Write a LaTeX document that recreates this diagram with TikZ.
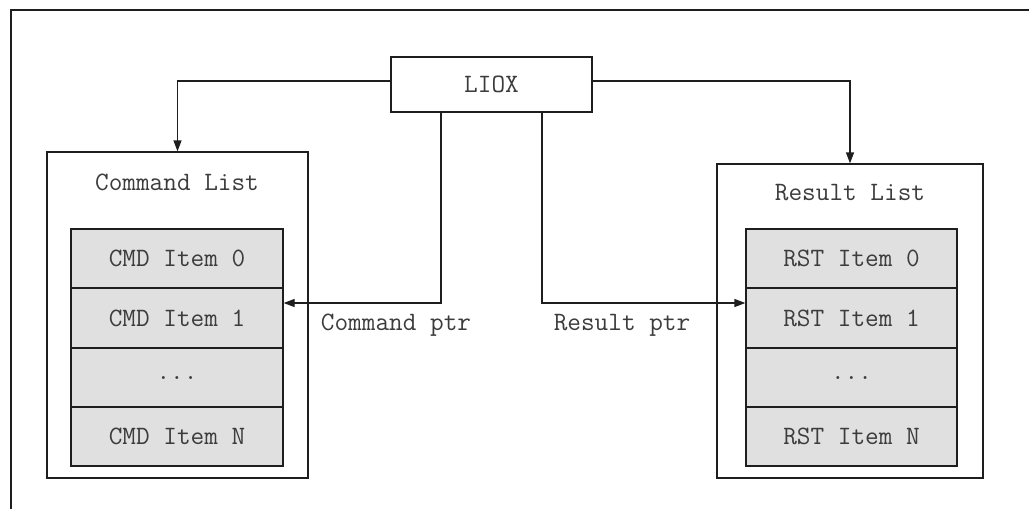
\documentclass[tikz,border=0pt]{standalone}
\usetikzlibrary{arrows.meta}
\definecolor{itemgray}{RGB}{224,224,224}
\definecolor{linecol}{RGB}{30,30,30}
\definecolor{txtcol}{RGB}{60,60,60}
\begin{document}
\begin{tikzpicture}[x=1pt,y=-1pt,
  every node/.style={font=\fontsize{26.5}{30}\selectfont\ttfamily, text=txtcol},
  boxline/.style={draw=linecol, line width=1.3pt},
  listbox/.style={boxline, fill=white, inner sep=0pt},
  itembox/.style={boxline, fill=itemgray, minimum width=212pt, minimum height=59pt, inner sep=0pt},
  arr/.style={draw=linecol, line width=1.3pt, -{Triangle[length=11pt,width=8pt]}},
  plain/.style={inner sep=0pt}]
\useasboundingbox (0,0) rectangle (1029,509);

% outer frame (top and left edges)
\draw[boxline] (11,509) -- (11,10) -- (1029,10);

% list containers
\node[listbox, minimum width=261pt, minimum height=326pt] (cmdlist) at (177.5,315) {};
\node[listbox, minimum width=266pt, minimum height=314pt] (rstlist) at (850,321) {};
\node[plain] (cmdtitle) at (177,182) {Command List};
\node[plain] (rsttitle) at (850,193) {Result List};

% command items
\node[itembox] (cmd0) at (177,258.5) {CMD Item 0};
\node[itembox] (cmd1) at (177,318) {CMD Item 1};
\node[itembox] (cmd2) at (177,377.5) {...};
\node[itembox] (cmdN) at (177,436.5) {CMD Item N};

% result items
\node[itembox, minimum width=211pt] (rst0) at (851.5,258.5) {RST Item 0};
\node[itembox, minimum width=211pt] (rst1) at (851.5,318) {RST Item 1};
\node[itembox, minimum width=211pt] (rst2) at (851.5,377.5) {...};
\node[itembox, minimum width=211pt] (rstN) at (851.5,436.5) {RST Item N};

% LIOX controller
\node[boxline, fill=white, minimum width=201pt, minimum height=55pt, inner sep=0pt] (liox) at (491.5,84.5) {LIOX};

% connectors
\draw[arr] ([yshift=3.5pt]liox.west) -| (cmdlist.north);
\draw[arr] ([yshift=3.5pt]liox.east) -| (rstlist.north);
\draw[arr] ([xshift=-50.5pt]liox.south) |- ([yshift=15pt]cmd1.east);
\draw[arr] ([xshift=50.5pt]liox.south) |- ([yshift=15pt]rst1.west);

% pointer labels
\node[plain] (cmdptr) at (396,325) {Command ptr};
\node[plain] (rstptr) at (622,325) {Result ptr};
\end{tikzpicture}
\end{document}
